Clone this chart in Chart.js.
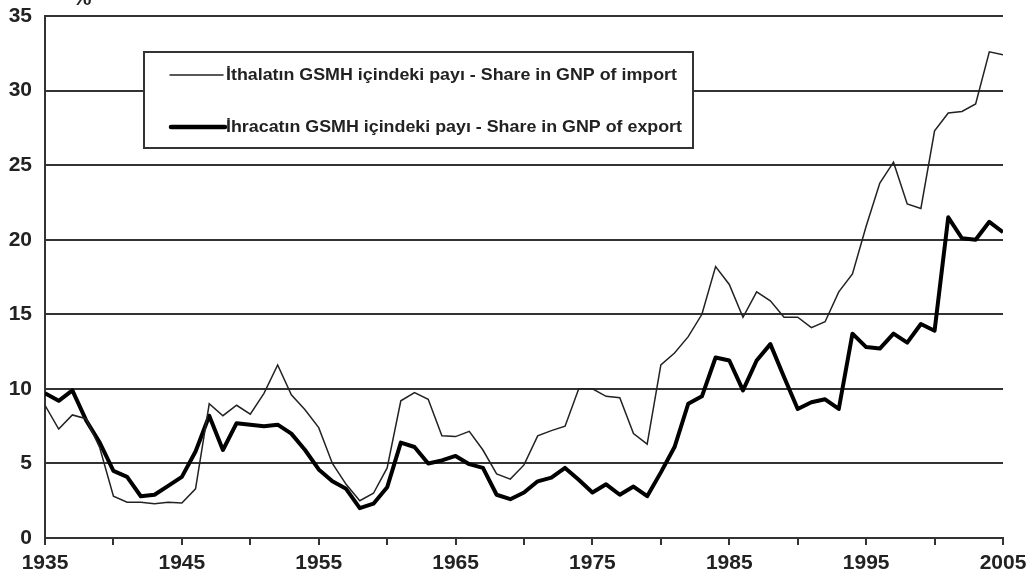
<!DOCTYPE html>
<html>
<head>
<meta charset="utf-8">
<script src="https://cdn.jsdelivr.net/npm/chart.js@4.4.0/dist/chart.umd.min.js"></script>
<style>
  html, body { margin: 0; padding: 0; background: #ffffff; }
  #wrap { width: 1028px; height: 581px; position: relative; }
</style>
</head>
<body>
<div id="wrap"><canvas id="c" width="1028" height="581"></canvas></div>
<script>
const years = [1935,1936,1937,1938,1939,1940,1941,1942,1943,1944,
  1945,1946,1947,1948,1949,1950,1951,1952,1953,1954,
  1955,1956,1957,1958,1959,1960,1961,1962,1963,1964,
  1965,1966,1967,1968,1969,1970,1971,1972,1973,1974,
  1975,1976,1977,1978,1979,1980,1981,1982,1983,1984,
  1985,1986,1987,1988,1989,1990,1991,1992,1993,1994,
  1995,1996,1997,1998,1999,2000,2001,2002,2003,2004,2005];

const importShare = [8.9,7.3,8.25,8.0,6.05,2.8,2.4,2.4,2.3,2.4,
  2.35,3.3,9.0,8.2,8.9,8.3,9.7,11.6,9.6,8.6,
  7.4,5.0,3.6,2.5,3.0,4.7,9.2,9.75,9.3,6.85,
  6.8,7.15,5.9,4.3,3.95,4.9,6.85,7.2,7.5,10.0,
  10.0,9.5,9.4,7.0,6.3,11.6,12.4,13.5,15.0,18.2,
  17.0,14.8,16.5,15.9,14.8,14.8,14.1,14.5,16.5,17.7,
  20.9,23.8,25.2,22.4,22.1,27.3,28.5,28.6,29.1,32.6,32.4];

const exportShare = [9.7,9.2,9.9,7.9,6.4,4.5,4.1,2.8,2.9,3.5,
  4.1,5.8,8.2,5.9,7.7,7.6,7.5,7.6,7.0,5.9,
  4.6,3.8,3.3,2.0,2.3,3.4,6.4,6.1,5.0,5.2,
  5.5,4.95,4.7,2.9,2.6,3.05,3.8,4.05,4.7,3.9,
  3.05,3.6,2.9,3.45,2.8,4.4,6.1,9.0,9.5,12.1,
  11.9,9.9,11.9,13.0,10.8,8.65,9.1,9.3,8.65,13.7,
  12.8,12.7,13.7,13.1,14.35,13.9,21.5,20.1,20.0,21.2,20.5];

const seriesLabels = [
  "İthalatın GSMH içindeki payı - Share in GNP of import",
  "İhracatın GSMH içindeki payı - Share in GNP of export"
];
const unitLabel = "%";

const yMin = 0, yMax = 35, yStep = 5;
const xMin = 1935, xMax = 2005, xStep = 5, xLabelEvery = 10;

const toPoints = (vals) => years.map((yr, i) => ({ x: yr, y: vals[i] }));

const legendPlugin = {
  id: 'boxLegend',
  afterDraw(chart) {
    const ctx = chart.ctx;
    ctx.save();
    // % mark at top (cut off)
    ctx.fillStyle = '#222';
    ctx.font = 'bold 21px "Liberation Sans", Arial, sans-serif';
    ctx.textAlign = 'center';
    ctx.textBaseline = 'alphabetic';
    ctx.fillText(unitLabel, 82, 5);

    // legend box
    const bx = 144, by = 52, bw = 549, bh = 96;
    ctx.fillStyle = '#ffffff';
    ctx.fillRect(bx, by, bw, bh);
    ctx.strokeStyle = '#333';
    ctx.lineWidth = 2;
    ctx.strokeRect(bx, by, bw, bh);

    const rows = [
      { y: 75, w: 1.5, color: '#222', x0: 170, x1: 223 },
      { y: 127, w: 4.5, color: '#000', x0: 171, x1: 225 }
    ];
    ctx.font = 'bold 17px "Liberation Sans", Arial, sans-serif';
    const targetW = 451;
    const natW = ctx.measureText(seriesLabels[0]).width;
    const sx = targetW / natW;
    rows.forEach((r, i) => {
      ctx.beginPath();
      ctx.strokeStyle = r.color;
      ctx.lineWidth = r.w;
      ctx.lineCap = 'round';
      ctx.moveTo(r.x0, r.y);
      ctx.lineTo(r.x1, r.y);
      ctx.stroke();
      ctx.save();
      ctx.translate(226, r.y);
      ctx.scale(sx, 1);
      ctx.fillStyle = '#222';
      ctx.textAlign = 'left';
      ctx.textBaseline = 'middle';
      ctx.fillText(seriesLabels[i], 0, 0);
      ctx.restore();
    });
    ctx.restore();
  }
};

new Chart(document.getElementById('c'), {
  type: 'line',
  data: {
    datasets: [
      {
        label: seriesLabels[0],
        data: toPoints(importShare),
        borderColor: '#222',
        borderWidth: 1.5,
        pointRadius: 0,
        tension: 0,
        fill: false
      },
      {
        label: seriesLabels[1],
        data: toPoints(exportShare),
        borderColor: '#000',
        borderWidth: 4,
        pointRadius: 0,
        tension: 0,
        fill: false,
        borderJoinStyle: 'round'
      }
    ]
  },
  options: {
    responsive: false,
    animation: false,
    devicePixelRatio: 1,
    layout: { padding: { top: 16, right: 25, left: 0, bottom: 0 } },
    plugins: {
      legend: { display: false },
      tooltip: { enabled: false },
      title: { display: false }
    },
    scales: {
      x: {
        type: 'linear',
        min: xMin,
        max: xMax,
        afterFit(scale) {
          scale.height = 43;
          scale.paddingLeft = 0;
          scale.paddingRight = 0;
        },
        ticks: {
          stepSize: xStep,
          autoSkip: false,
          maxRotation: 0,
          padding: 6,
          color: '#222',
          font: { family: '"Liberation Sans", Arial, sans-serif', size: 21, weight: 'bold' },
          callback: (v) => ((v - xMin) % xLabelEvery === 0 ? String(v) : '')
        },
        grid: {
          drawOnChartArea: false,
          drawTicks: true,
          tickLength: 7,
          color: '#333',
          lineWidth: 2
        },
        border: { display: true, color: '#333', width: 2 }
      },
      y: {
        min: yMin,
        max: yMax,
        afterFit(scale) {
          scale.width = 45;
          scale.paddingTop = 0;
          scale.paddingBottom = 0;
        },
        ticks: {
          stepSize: yStep,
          padding: 13,
          color: '#222',
          font: { family: '"Liberation Sans", Arial, sans-serif', size: 21, weight: 'bold' }
        },
        grid: {
          drawTicks: false,
          color: '#333',
          lineWidth: 2
        },
        border: { display: true, color: '#333', width: 2 }
      }
    }
  },
  plugins: [legendPlugin]
});
</script>
</body>
</html>
